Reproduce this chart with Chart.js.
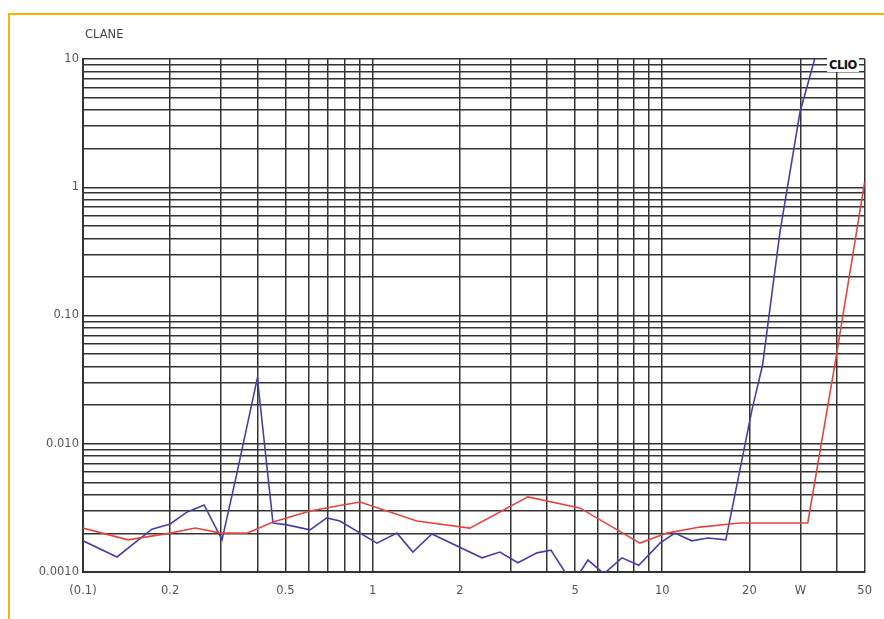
<!DOCTYPE html>
<html>
<head>
<meta charset="utf-8">
<script src="https://cdn.jsdelivr.net/npm/chart.js@4.4.1/dist/chart.umd.min.js"></script>
<style>
  html, body { margin: 0; padding: 0; background: #fff; }
  #wrap { position: relative; width: 884px; height: 619px; overflow: hidden; }
  #frame { position: absolute; left: 8px; top: 13px; width: 900px; height: 700px;
           border-top: 2px solid #f7b500; border-left: 2px solid #f7b500; }
  #title { position: absolute; left: 85px; top: 27px; font: 11.5px "DejaVu Sans", sans-serif; color: #444; }
  #brand { position: absolute; left: 827px; top: 58px; padding: 0 2px; background: #fff;
           font: bold 11.5px "DejaVu Sans", sans-serif; color: #111; letter-spacing: -0.5px; }
</style>
</head>
<body>
<div id="wrap">
  <div id="frame"></div>
  <canvas id="chart"></canvas>
  <div id="title">CLANE</div>
  <div id="brand">CLIO</div>
</div>
<script>
// blue trace
const blueFreq = [0.1, 0.131, 0.173, 0.2, 0.229, 0.262, 0.302, 0.34, 0.4, 0.453,
  0.506, 0.608, 0.695, 0.771, 1.035, 1.213, 1.377, 1.602, 2.385, 2.75,
  3.175, 3.69, 4.126, 4.9, 5.54, 6.29, 7.26, 8.3, 9.82, 11.05,
  12.65, 14.37, 16.58, 20.4, 22.2, 25.5, 29.9, 33.6];
const blueLevel = [0.00175, 0.00131, 0.00216, 0.00237, 0.00294, 0.00333, 0.00178, 0.0059, 0.0326, 0.00241,
  0.00233, 0.00213, 0.00264, 0.0025, 0.00168, 0.00201, 0.00143, 0.00198, 0.00129, 0.00143,
  0.00118, 0.00141, 0.00148, 0.00081, 0.00124, 0.00097, 0.00129, 0.00113, 0.00168, 0.00201,
  0.00175, 0.00184, 0.00178, 0.0183, 0.0411, 0.448, 3.86, 10];

// red trace
const redFreq = [0.1, 0.143, 0.2, 0.244, 0.3, 0.368, 0.453, 0.608, 0.753, 0.904,
  1.422, 2.167, 3.436, 5.19, 8.37, 10.37, 13.49, 18.5, 31.8, 39.7, 50];
const redLevel = [0.0022, 0.00178, 0.00201, 0.0022, 0.00201, 0.00201, 0.00245, 0.00299, 0.00327, 0.00351,
  0.0025, 0.0022, 0.00385, 0.00316, 0.00168, 0.00201, 0.00224, 0.00241, 0.00241, 0.045, 1.1];

// tick labels
const xLabelValues = [0.1, 0.2, 0.5, 1, 2, 5, 10, 20, 30, 50];
const xLabelText = ["(0.1)", "0.2", "0.5", "1", "2", "5", "10", "20", "W", "50"];
const yLabelValues = [0.001, 0.01, 0.1, 1, 10];
const yLabelText = ["0.0010", "0.010", "0.10", "1", "10"];

const X_MIN = 0.1, X_MAX = 50, Y_MIN = 0.001, Y_MAX = 10;
const GRID = "#333";

function toPoints(xs, ys) {
  return xs.map((x, i) => ({ x: x, y: ys[i] }));
}

// 1..9 per decade, used for the grid
function logGrid(min, max) {
  const out = [];
  for (let e = Math.floor(Math.log10(min)); e <= Math.ceil(Math.log10(max)); e++) {
    for (let m = 1; m <= 9; m++) {
      const v = Number((m * Math.pow(10, e)).toPrecision(6));
      if (v >= min * 0.9999 && v <= max * 1.0001) out.push(v);
    }
  }
  return out;
}

function labelFor(values, texts, v) {
  for (let i = 0; i < values.length; i++) {
    if (Math.abs(v - values[i]) / values[i] < 1e-6) return texts[i];
  }
  return "";
}

const tickFont = { family: "'DejaVu Sans', sans-serif", size: 11.5 };

const ctx = document.getElementById("chart");
new Chart(ctx, {
  type: "scatter",
  data: {
    datasets: [
      {
        label: "red",
        data: toPoints(redFreq, redLevel),
        showLine: true,
        borderColor: "#e2463f",
        borderWidth: 1.6,
        pointRadius: 0,
        tension: 0,
      },
      {
        label: "blue",
        data: toPoints(blueFreq, blueLevel),
        showLine: true,
        borderColor: "#4141a6",
        borderWidth: 1.6,
        pointRadius: 0,
        tension: 0,
      },
    ],
  },
  options: {
    animation: false,
    responsive: true,
    maintainAspectRatio: false,
    layout: { padding: { left: 0, top: 59, right: 19, bottom: 0 } },
    plugins: { legend: { display: false }, tooltip: { enabled: false } },
    scales: {
      x: {
        type: "logarithmic",
        min: X_MIN,
        max: X_MAX,
        afterBuildTicks: (scale) => {
          scale.ticks = logGrid(X_MIN, X_MAX).map((v) => ({ value: v }));
        },
        afterFit: (scale) => { scale.height = 47; },
        grid: { color: GRID, lineWidth: 1.5, drawTicks: false },
        border: { color: "#333", width: 2 },
        ticks: {
          autoSkip: false,
          maxRotation: 0,
          padding: 12,
          color: "#555",
          font: tickFont,
          callback: (v) => labelFor(xLabelValues, xLabelText, v),
        },
      },
      y: {
        type: "logarithmic",
        min: Y_MIN,
        max: Y_MAX,
        afterBuildTicks: (scale) => {
          scale.ticks = logGrid(Y_MIN, Y_MAX).map((v) => ({ value: v }));
        },
        afterFit: (scale) => { scale.width = 83; },
        grid: { color: GRID, lineWidth: 1.5, drawTicks: false },
        border: { color: "#333", width: 2 },
        ticks: {
          autoSkip: false,
          padding: 4,
          color: "#555",
          font: tickFont,
          callback: (v) => labelFor(yLabelValues, yLabelText, v),
        },
      },
    },
  },
});
</script>
</body>
</html>
